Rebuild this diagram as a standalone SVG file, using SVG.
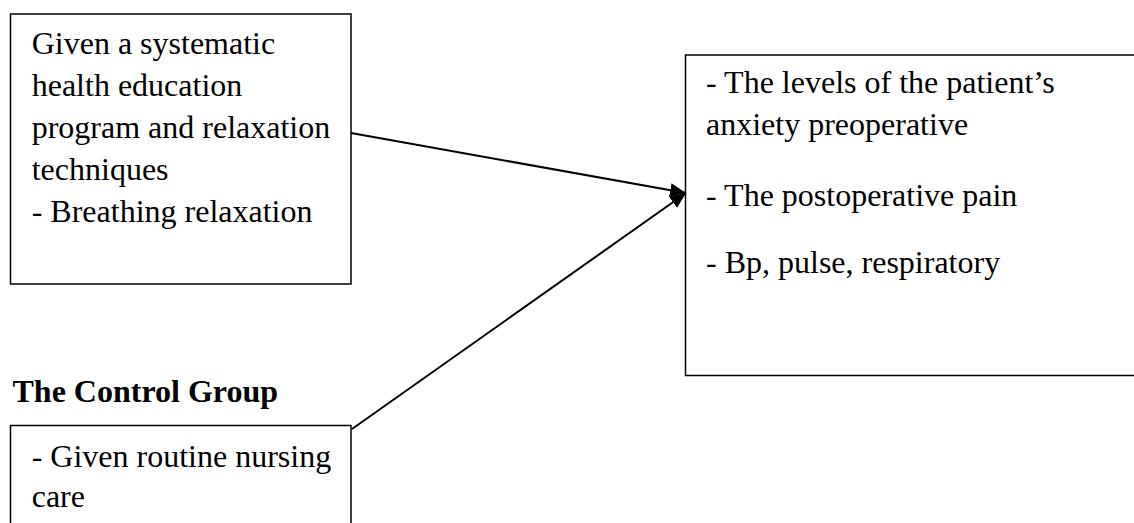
<svg xmlns="http://www.w3.org/2000/svg" width="1134" height="523" viewBox="0 0 1134 523">
<defs>
<style>
.box{fill:#fff;stroke:#000;stroke-width:1.5}
.t{font-family:"Liberation Serif","Times New Roman",serif;font-size:32px;fill:#000}
.b{font-family:"Liberation Serif","Times New Roman",serif;font-size:32px;font-weight:bold;fill:#000}
.conn{stroke:#000;stroke-width:2;fill:none}
</style>
<marker id="arr" viewBox="0 0 16 14" refX="16" refY="7" markerWidth="16" markerHeight="14" markerUnits="userSpaceOnUse" orient="auto">
<path d="M0,0 L16,7 L0,14 Z" fill="#000"/>
</marker>
</defs>
<rect width="1134" height="523" fill="#fff"/>
<g id="intervention">
<rect class="box" x="10.5" y="14" width="340.5" height="270"/>
<text class="t" x="31.7" y="54">Given a systematic</text>
<text class="t" x="31.7" y="96">health education</text>
<text class="t" x="31.7" y="138">program and relaxation</text>
<text class="t" x="31.7" y="180">techniques</text>
<text class="t" x="31.7" y="222">- Breathing relaxation</text>
</g>
<g id="outcomes">
<rect class="box" x="685.5" y="55" width="460" height="320.5"/>
<text class="t" x="706" y="93">- The levels of the patient’s</text>
<text class="t" x="706" y="135">anxiety preoperative</text>
<text class="t" x="706" y="206">- The postoperative pain</text>
<text class="t" x="706" y="273">- Bp, pulse, respiratory</text>
</g>
<g id="control-label">
<text class="b" x="12.5" y="402">The Control Group</text>
</g>
<g id="control">
<rect class="box" x="10.5" y="425.5" width="340.5" height="110"/>
<text class="t" x="31.7" y="467">- Given routine nursing</text>
<text class="t" x="31.7" y="507">care</text>
</g>
<g id="connectors">
<line class="conn" x1="351" y1="133" x2="686" y2="193" marker-end="url(#arr)"/>
<line class="conn" x1="352" y1="429" x2="686" y2="193" marker-end="url(#arr)"/>
</g>
</svg>
